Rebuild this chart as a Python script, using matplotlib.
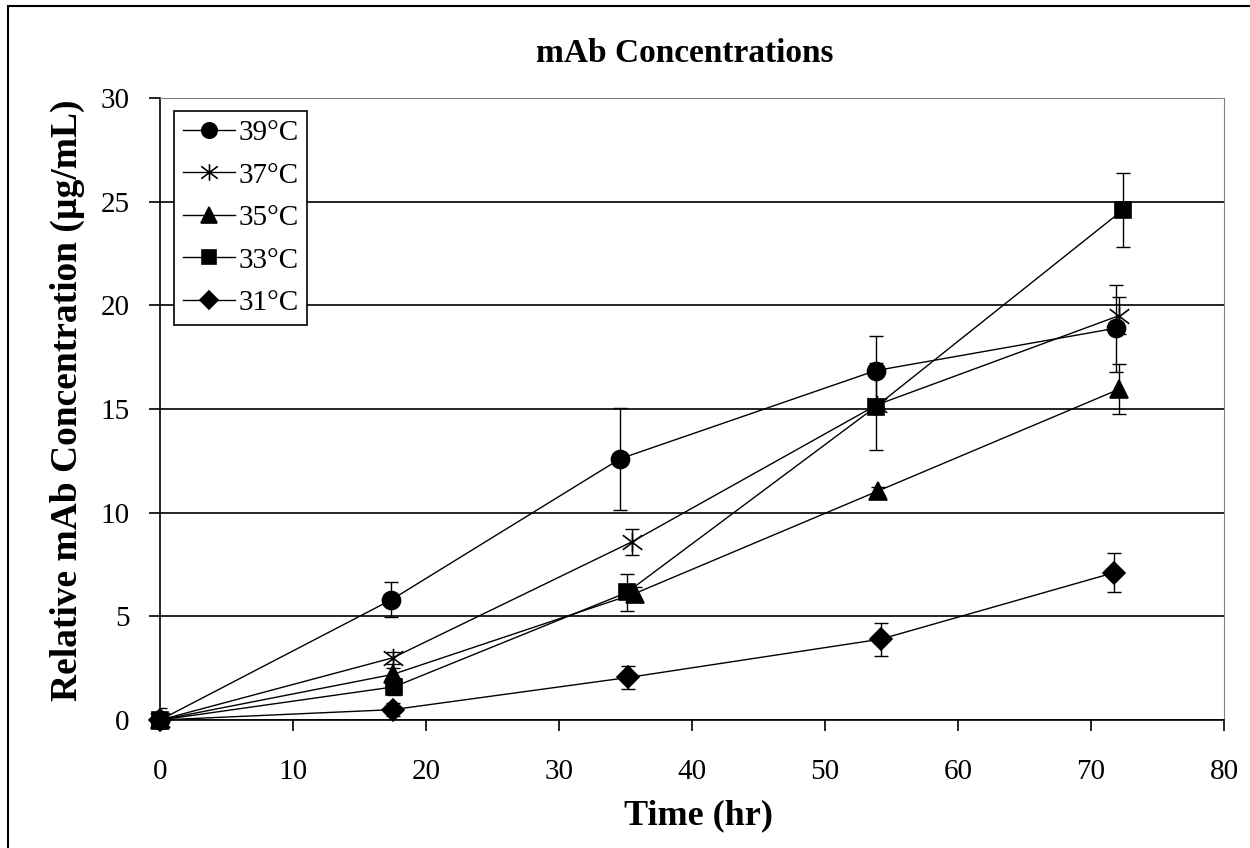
import numpy as np
import matplotlib.pyplot as plt
from matplotlib.path import Path
from matplotlib.patches import Rectangle
from matplotlib.lines import Line2D

plt.rcParams['font.family'] = ['Liberation Serif', 'DejaVu Serif']

# data
labels = ['39°C', '37°C', '35°C', '33°C', '31°C']
t_39 = [0, 17.4, 34.6, 53.8, 71.9]
t_37 = [0, 17.5, 35.5, 53.9, 72.1]
t_35 = [0, 17.5, 35.7, 54.0, 72.1]
t_33 = [0, 17.6, 35.1, 53.8, 72.4]
t_31 = [0, 17.5, 35.2, 54.2, 71.7]

c_39 = [0, 5.8, 12.6, 16.85, 18.9]
c_37 = [0, 3.0, 8.6, 15.2, 19.5]
c_35 = [0, 2.2, 6.1, 11.05, 15.95]
c_33 = [0, 1.6, 6.15, 15.1, 24.6]
c_31 = [0, 0.5, 2.05, 3.9, 7.1]

e_39 = [0.6, 0.85, 2.45, 1.65, 2.1]
e_37 = [0, 0.3, 0.62, 0.3, 0.9]
e_35 = [0, 0.3, 0.3, 0.2, 1.2]
e_33 = [0, 0.4, 0.9, 2.1, 1.8]
e_31 = [0, 0.3, 0.56, 0.8, 0.94]

# Excel style star marker: X plus vertical bar
star = Path([(0, -1), (0, 1), (-1, -0.75), (1, 0.75), (-1, 0.75), (1, -0.75)],
            [Path.MOVETO, Path.LINETO, Path.MOVETO, Path.LINETO, Path.MOVETO, Path.LINETO])

series = [
    (t_39, c_39, e_39, 'o', 13),
    (t_37, c_37, e_37, star, 14),
    (t_35, c_35, e_35, '^', 13),
    (t_33, c_33, e_33, 's', 12),
    (t_31, c_31, e_31, 'D', 11),
]

fig = plt.figure(figsize=(12.5, 8.48), dpi=100)
ax = fig.add_axes([160/1250, 128/848, 1064/1250, 622/848])

handles = []
for (t, c, e, m, ms), lab in zip(series, labels):
    ax.errorbar(t, c, yerr=e, fmt='none', ecolor='black', elinewidth=1.0, capsize=5,
                capthick=1.0, zorder=3)
    ax.plot(t, c, color='black', lw=1.0, marker=m, ms=ms, mfc='black', mec='black',
            mew=1.2, zorder=4, clip_on=False)
    handles.append(Line2D([], [], color='black', lw=1.0, marker=m, ms=ms * 0.85,
                          mfc='black', mec='black', mew=1.2, label=lab))

ax.set_xlim(0, 80)
ax.set_ylim(0, 30)
ax.set_xticks(np.arange(0, 81, 10))
ax.set_yticks(np.arange(0, 31, 5))
ax.tick_params(axis='both', labelsize=21, direction='out', length=8, width=1.2, colors='black')
ax.tick_params(axis='x', pad=20)
ax.tick_params(axis='y', pad=14)
ax.yaxis.grid(True, color='black', lw=1.2)
ax.set_axisbelow(True)
ax.spines['top'].set_color('#808080')
ax.spines['right'].set_color('#808080')
ax.spines['left'].set_linewidth(1.2)
ax.spines['bottom'].set_linewidth(1.2)

leg = ax.legend(handles=handles, loc='upper left', bbox_to_anchor=(14/1064, 1 - 13/622),
                fontsize=21, frameon=True, fancybox=False, edgecolor='black', framealpha=1,
                borderpad=0.3, labelspacing=0.55, handlelength=1.8, handletextpad=0.1,
                borderaxespad=0)
leg.get_frame().set_linewidth(1.2)

fig.text(685/1250, 1 - 53/848, 'mAb Concentrations', ha='center', va='center',
         fontsize=24, fontweight='bold')
fig.text(699/1250, 1 - 816/848, 'Time (hr)', ha='center', va='center',
         fontsize=26, fontweight='bold')
fig.text(67/1250, 1 - 400/848, 'Relative mAb Concentration (µg/mL)', ha='center',
         va='center', rotation=90, fontsize=27, fontweight='bold')

fig.patches.append(Rectangle((8/1250, -0.1), 1.2, 1.1 - 6/848, transform=fig.transFigure,
                             fill=False, edgecolor='black', lw=1.5))

fig.savefig('out.png', dpi=100)
